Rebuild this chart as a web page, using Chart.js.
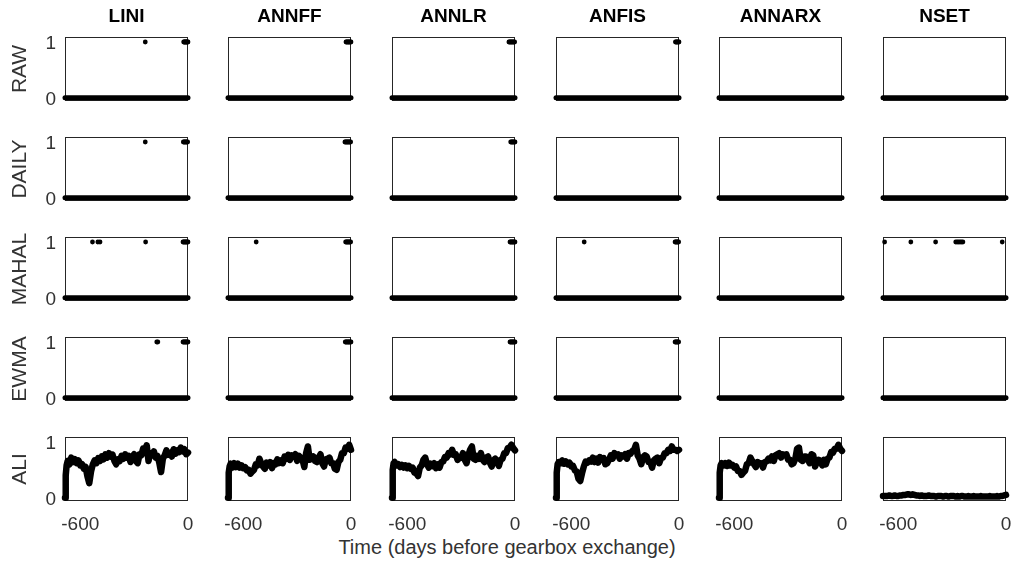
<!DOCTYPE html>
<html><head><meta charset="utf-8">
<script src="https://cdn.jsdelivr.net/npm/chart.js@4.4.0/dist/chart.umd.min.js"></script>
<style>
html,body{margin:0;padding:0;background:#fff;width:1014px;height:569px;overflow:hidden;position:relative;font-family:"Liberation Sans",Arial,sans-serif}
canvas{position:absolute}
#xlabel{position:absolute;left:0;width:1014px;top:536px;line-height:22px;text-align:center;font-size:20px;color:#333;white-space:nowrap}
</style></head><body>
<div id="xlabel">Time (days before gearbox exchange)</div>
<script>
// ---------- data ----------
const methods = ['LINI', 'ANNFF', 'ANNLR', 'ANFIS', 'ANNARX', 'NSET'];
const detectors = ['RAW', 'DAILY', 'MAHAL', 'EWMA', 'ALI'];
const xTickValues = [-600, 0];
const yTickValues = [0, 1];
const recordSpan = [-685, 0];          // first and last day of the record (value 0 = no alarm)

// alarm days (value 1), one list per method
const rawAlarms = [
  [-238, -24, -21, -18, -15, -12, -9, -6, -3, 0],
  [-28, -24, -20, -16, -12, -8, -4, 0],
  [-34, -30, -26, -22, -18, -14, -10, -6, -2],
  [-20, -16, -12, -8, -4, 0],
  [],
  []
];
const dailyAlarms = [
  [-238, -26, -22, -18, -14, -10, -6, -2],
  [-34, -30, -26, -22, -18, -14, -10, -6, -2],
  [-24, -20, -16, -12, -8, -4, 0],
  [],
  [],
  []
];
const mahalAlarms = [
  [-532, -502, -490, -236, -28, -24, -20, -16, -12, -8, -4, 0],
  [-528, -30, -26, -22, -18, -14, -10, -6, -2],
  [-28, -24, -20, -16, -12, -8, -4, 0],
  [-528, -22, -18, -14, -10, -6, -2],
  [],
  [-676, -530, -392, -280, -272, -264, -256, -248, -240, -21]
];
const ewmaAlarms = [
  [-174, -168, -28, -24, -20, -16, -12, -8, -4, 0],
  [-32, -28, -24, -20, -16, -12, -8, -4, 0],
  [-28, -24, -20, -16, -12, -8, -4, 0],
  [-22, -18, -14, -10, -6, -2],
  [],
  []
];

// ALI health index
const aliDays = [-685, -681, -676,
  -670, -660, -650, -640, -630, -620, -610, -600, -590, -580,
  -570, -560, -550, -540, -530, -520, -510, -500, -490, -480,
  -470, -460, -450, -440, -430, -420, -410, -400, -390, -380,
  -370, -360, -350, -340, -330, -320, -310, -300, -290, -280,
  -270, -260, -250, -240, -230, -220, -210, -200, -190, -180,
  -170, -160, -150, -140, -130, -120, -110, -100, -90, -80,
  -70, -60, -50, -40, -30, -20, -10, 0];
const aliLINI = [0.00, 0.40, 0.58,
  0.66, 0.60, 0.72, 0.64, 0.69, 0.62, 0.67, 0.58, 0.60, 0.52,
  0.55, 0.38, 0.26, 0.47, 0.60, 0.67, 0.62, 0.71, 0.66, 0.74,
  0.69, 0.78, 0.72, 0.80, 0.74, 0.77, 0.66, 0.60, 0.69, 0.66,
  0.75, 0.70, 0.78, 0.72, 0.75, 0.64, 0.74, 0.78, 0.66, 0.62,
  0.78, 0.76, 0.88, 0.84, 0.94, 0.66, 0.80, 0.76, 0.83, 0.72,
  0.75, 0.63, 0.46, 0.70, 0.76, 0.85, 0.77, 0.80, 0.74, 0.87,
  0.79, 0.85, 0.82, 0.90, 0.83, 0.87, 0.78, 0.81];
const aliANNFF = [0.00, 0.45, 0.56,
  0.61, 0.54, 0.62, 0.55, 0.61, 0.54, 0.58, 0.53, 0.55, 0.49,
  0.50, 0.43, 0.47, 0.50, 0.60, 0.58, 0.70, 0.62, 0.56, 0.52,
  0.63, 0.58, 0.64, 0.53, 0.62, 0.60, 0.69, 0.62, 0.67, 0.62,
  0.74, 0.70, 0.77, 0.68, 0.76, 0.74, 0.78, 0.66, 0.75, 0.72,
  0.68, 0.55, 0.80, 0.92, 0.68, 0.70, 0.74, 0.66, 0.64, 0.72,
  0.78, 0.62, 0.56, 0.69, 0.70, 0.72, 0.62, 0.62, 0.52, 0.50,
  0.64, 0.68, 0.80, 0.80, 0.90, 0.88, 0.95, 0.86];
const aliANNLR = [0.00, 0.50, 0.62,
  0.64, 0.58, 0.60, 0.55, 0.59, 0.54, 0.58, 0.53, 0.57, 0.52,
  0.54, 0.45, 0.44, 0.39, 0.54, 0.58, 0.68, 0.72, 0.60, 0.54,
  0.61, 0.57, 0.62, 0.53, 0.60, 0.54, 0.64, 0.65, 0.73, 0.72,
  0.80, 0.78, 0.86, 0.77, 0.78, 0.68, 0.71, 0.72, 0.80, 0.68,
  0.62, 0.76, 0.86, 0.92, 0.70, 0.68, 0.75, 0.70, 0.80, 0.68,
  0.64, 0.72, 0.74, 0.63, 0.56, 0.67, 0.70, 0.64, 0.57, 0.68,
  0.70, 0.80, 0.80, 0.89, 0.90, 0.95, 0.89, 0.85];
const aliANFIS = [0.00, 0.45, 0.60,
  0.64, 0.62, 0.67, 0.61, 0.65, 0.60, 0.63, 0.56, 0.57, 0.49,
  0.47, 0.34, 0.30, 0.44, 0.56, 0.65, 0.63, 0.67, 0.65, 0.72,
  0.64, 0.70, 0.63, 0.73, 0.70, 0.71, 0.60, 0.62, 0.68, 0.76,
  0.70, 0.80, 0.77, 0.78, 0.70, 0.76, 0.74, 0.78, 0.70, 0.80,
  0.79, 0.84, 0.86, 0.95, 0.76, 0.70, 0.60, 0.73, 0.76, 0.74,
  0.64, 0.64, 0.54, 0.67, 0.70, 0.72, 0.62, 0.71, 0.72, 0.80,
  0.80, 0.86, 0.84, 0.92, 0.86, 0.86, 0.84, 0.86];
const aliANNARX = [0.00, 0.45, 0.58,
  0.62, 0.58, 0.62, 0.57, 0.63, 0.58, 0.59, 0.54, 0.56, 0.48,
  0.48, 0.41, 0.45, 0.48, 0.60, 0.62, 0.72, 0.66, 0.60, 0.55,
  0.64, 0.62, 0.62, 0.54, 0.64, 0.65, 0.70, 0.67, 0.74, 0.66,
  0.76, 0.78, 0.80, 0.72, 0.78, 0.77, 0.78, 0.68, 0.68, 0.60,
  0.62, 0.70, 0.88, 0.90, 0.68, 0.66, 0.74, 0.74, 0.68, 0.62,
  0.78, 0.76, 0.56, 0.64, 0.68, 0.66, 0.58, 0.68, 0.60, 0.70,
  0.72, 0.82, 0.81, 0.88, 0.88, 0.95, 0.88, 0.84];
const aliNSET = [0.03, 0.03, 0.03,
  0.03, 0.03, 0.04, 0.03, 0.03, 0.04, 0.03, 0.03, 0.04, 0.04,
  0.05, 0.05, 0.06, 0.06, 0.05, 0.06, 0.05, 0.04, 0.04, 0.03,
  0.04, 0.03, 0.03, 0.03, 0.04, 0.03, 0.03, 0.03, 0.02, 0.03,
  0.03, 0.03, 0.02, 0.03, 0.03, 0.02, 0.03, 0.03, 0.03, 0.02,
  0.03, 0.02, 0.03, 0.03, 0.02, 0.02, 0.03, 0.02, 0.02, 0.03,
  0.02, 0.02, 0.02, 0.03, 0.02, 0.02, 0.02, 0.02, 0.03, 0.02,
  0.02, 0.02, 0.03, 0.02, 0.03, 0.03, 0.04, 0.05];

const alarmRows = [rawAlarms, dailyAlarms, mahalAlarms, ewmaAlarms];
const aliRows = [aliLINI, aliANNFF, aliANNLR, aliANFIS, aliANNARX, aliNSET];

// ---------- layout & style ----------
const colLeft = [65, 228, 392, 556, 719, 883];
const rowTop = [37, 137, 237, 337, 437];
const boxW = 123, boxH = 64;
const Y_MIN = -0.06, Y_MAX = 1.09;
const FONT = '"Liberation Sans", Arial, sans-serif';
const AXIS_COLOR = '#333';

const boxPlugin = {
  id: 'box',
  beforeDatasetsDraw(chart) {
    const a = chart.chartArea, ctx = chart.ctx;
    ctx.save();
    ctx.strokeStyle = '#262626';
    ctx.lineWidth = 1;
    ctx.strokeRect(a.left + 0.5, a.top + 0.5, a.right - a.left - 1, a.bottom - a.top - 1);
    ctx.restore();
  }
};

for (let r = 0; r < detectors.length; r++) {
  for (let c = 0; c < methods.length; c++) {
    const showX = r === detectors.length - 1;
    const showY = c === 0;
    const padL = showY ? 65 : 8;
    const padR = 10;
    const padT = r === 0 ? 37 : 8;
    const padB = showX ? 44 : 8;
    const cv = document.createElement('canvas');
    const w = padL + boxW + padR, h = padT + boxH + padB;
    cv.width = w; cv.height = h;
    cv.style.width = w + 'px'; cv.style.height = h + 'px';
    cv.style.left = (colLeft[c] - padL) + 'px';
    cv.style.top = (rowTop[r] - padT) + 'px';
    document.body.appendChild(cv);

    let datasets;
    if (r < 4) {
      datasets = [
        { type: 'line', data: recordSpan.map(d => ({ x: d, y: 0 })), borderColor: '#000',
          borderWidth: 5, borderCapStyle: 'round', pointRadius: 0, clip: 10 },
        { type: 'line', data: alarmRows[r][c].map(d => ({ x: d, y: 1 })), showLine: false,
          pointRadius: 2.4, pointBackgroundColor: '#000', pointBorderWidth: 0, clip: 10 }
      ];
    } else {
      datasets = [
        { type: 'line', data: aliDays.map((d, i) => ({ x: d, y: aliRows[c][i] })), borderColor: '#000',
          borderWidth: 6.5, borderCapStyle: 'round', borderJoinStyle: 'round', pointRadius: 0,
          tension: 0, clip: 10 }
      ];
    }

    new Chart(cv, {
      data: { datasets },
      plugins: [boxPlugin],
      options: {
        responsive: false, animation: false, devicePixelRatio: 1,
        events: [],
        layout: { padding: { left: showY ? 0 : padL, right: padR, top: r === 0 ? 0 : padT, bottom: showX ? 0 : padB } },
        plugins: {
          legend: { display: false },
          tooltip: { enabled: false },
          title: {
            display: r === 0, text: methods[c], fullSize: false, color: '#000',
            font: { family: FONT, size: 19, weight: 'bold', lineHeight: 1.2 },
            padding: { top: 5, bottom: 9.2 }
          }
        },
        scales: {
          x: {
            type: 'linear', min: recordSpan[0], max: recordSpan[1], display: showX,
            afterBuildTicks: s => { s.ticks = xTickValues.map(v => ({ value: v })); },
            afterFit: s => { if (showX) { s.height = padB; s.paddingLeft = 0; s.paddingRight = 0; } },
            ticks: { color: AXIS_COLOR, font: { family: FONT, size: 19 }, padding: 12, maxRotation: 0, autoSkip: false },
            grid: { display: false, drawTicks: false },
            border: { display: false }
          },
          y: {
            type: 'linear', min: Y_MIN, max: Y_MAX, display: showY,
            afterBuildTicks: s => { s.ticks = yTickValues.map(v => ({ value: v })); },
            afterFit: s => { if (showY) { s.width = padL; s.paddingTop = 0; s.paddingBottom = 0; } },
            ticks: { color: AXIS_COLOR, font: { family: FONT, size: 19 }, padding: 9, labelOffset: 2 },
            grid: { display: false, drawTicks: false },
            border: { display: false },
            title: { display: true, text: detectors[r], color: AXIS_COLOR,
                     font: { family: FONT, size: 21 }, padding: { top: 8, bottom: 0 } }
          }
        }
      }
    });
  }
}
</script>
</body></html>
